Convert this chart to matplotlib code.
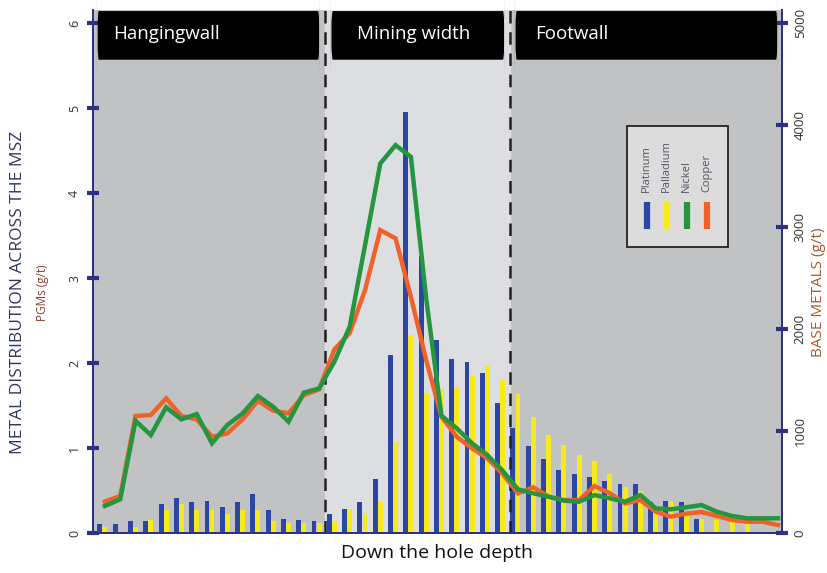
import matplotlib
matplotlib.use("Agg")
import numpy as np
import matplotlib.pyplot as plt
from matplotlib.patches import FancyBboxPatch, Rectangle
from matplotlib.lines import Line2D
import matplotlib.transforms as mtransforms

plt.rcParams['font.family'] = ['Open Sans', 'DejaVu Sans']

# samples down the hole, top of hangingwall to bottom of footwall
depth = np.arange(45)

# PGMs, g/t (left axis)
platinum = [0.11, 0.11, 0.14, 0.14, 0.34, 0.41, 0.36, 0.38, 0.31, 0.36,
            0.46, 0.27, 0.16, 0.15, 0.14, 0.22, 0.28, 0.36, 0.63, 2.09,
            4.95, 3.26, 2.27, 2.05, 2.01, 1.88, 1.53, 1.23, 1.02, 0.87,
            0.74, 0.70, 0.66, 0.61, 0.58, 0.58, 0.36, 0.38, 0.36, 0.16,
            0, 0, 0, 0, 0]
palladium = [0.07, 0.0, 0.07, 0.15, 0.27, 0.34, 0.27, 0.27, 0.22, 0.27,
             0.27, 0.14, 0.12, 0.12, 0.12, 0.14, 0.28, 0.23, 0.36, 1.07,
             2.33, 1.65, 1.69, 1.72, 1.85, 1.97, 1.80, 1.64, 1.37, 1.15,
             1.04, 0.92, 0.85, 0.69, 0.54, 0.49, 0.25, 0.38, 0.21, 0.16,
             0.15, 0.16, 0.12, 0, 0]

# base metals, g/t (right axis)
nickel = [265, 330, 1100, 960, 1232, 1114, 1166, 879, 1058, 1173,
          1343, 1238, 1091, 1375, 1418, 1680, 2022, 2820, 3623, 3802,
          3688, 2300, 1150, 1026, 879, 764, 610, 428, 389, 356,
          317, 307, 372, 340, 307, 372, 242, 232, 252, 274,
          209, 167, 144, 144, 144]
copper = [307, 363, 1147, 1157, 1320, 1147, 1114, 944, 977, 1114,
          1297, 1199, 1173, 1352, 1408, 1800, 1960, 2381, 2969, 2888,
          2316, 1695, 1140, 944, 830, 732, 580, 389, 448, 356,
          323, 323, 461, 389, 291, 323, 209, 160, 190, 205,
          167, 127, 111, 111, 78]

zones = ['Hangingwall', 'Mining width', 'Footwall']
zone_edges = [14.38, 26.47]

c_pt = '#2c46a6'
c_pd = '#f7ea18'
c_ni = '#23963f'
c_cu = '#f0622a'
navy = '#2b3184'
dark_bg = '#c1c2c4'
light_bg = '#dcdee1'

fig = plt.figure(figsize=(8.28, 5.73), dpi=100)
ax = fig.add_axes([0.1123, 0.0698, 0.832, 0.9127])
ax2 = ax.twinx()

xmin, xmax = -0.78, 44.25
ax.set_xlim(xmin, xmax)
ax.set_ylim(0, 6.153)
ax2.set_ylim(0, 5127)

# zone shading
ax.set_facecolor(dark_bg)
ax.axvspan(zone_edges[0], zone_edges[1], color=light_bg, zorder=0)
for xe in zone_edges:
    ax.axvline(xe, color='#222222', lw=1.8, ls=(0, (5, 3.5)), zorder=3)

# bars
w = 0.32
ax.bar(depth - 0.33, platinum, width=w, color=c_pt, zorder=2)
ax.bar(depth, palladium, width=w, color=c_pd, zorder=2)

# lines
ax2.plot(depth, copper, color=c_cu, lw=3.2, solid_joinstyle='miter', zorder=4)
ax2.plot(depth, nickel, color=c_ni, lw=3.2, solid_joinstyle='miter', zorder=5)

# spines and ticks
for a in (ax, ax2):
    a.spines['top'].set_visible(False)
    for s in ('left', 'right', 'bottom'):
        a.spines[s].set_color(navy)
        a.spines[s].set_linewidth(1.4)
ax.set_xticks([])
ax.set_yticks(range(0, 7))
ax2.set_yticks(range(0, 5001, 1000))
ax.tick_params(axis='y', direction='inout', length=9, width=3, color=navy,
               labelsize=9, labelcolor='#333333', labelrotation=90, pad=4)
ax2.tick_params(axis='y', direction='inout', length=9, width=3, color=navy,
                labelsize=9.5, labelcolor='#333333', labelrotation=90, pad=4)
for lab in ax.get_yticklabels() + ax2.get_yticklabels():
    lab.set_verticalalignment('center')

ax.set_xlabel('Down the hole depth', fontsize=14, color='#111111', labelpad=8)
fig.text(0.022, 0.49, 'METAL DISTRIBUTION ACROSS THE MSZ', rotation=90,
         ha='center', va='center', fontsize=12.5, color='#2f3566')
fig.text(0.051, 0.49, 'PGMs (g/t)', rotation=90, ha='center', va='center',
         fontsize=8.5, color='#8d3b2c')
fig.text(0.988, 0.49, 'BASE METALS (g/t)', rotation=90, ha='center',
         va='center', fontsize=11, color='#a8582a')

# zone headers
trans = mtransforms.blended_transform_factory(ax.transData, ax.transAxes)
boxes = [(-0.52, 14.05), (14.77, 26.14), (26.8, 43.99)]
for name, (x0, x1) in zip(zones, boxes):
    ax2.add_patch(FancyBboxPatch((x0, 0.905), x1 - x0, 0.093,
                                 boxstyle='round,pad=0,rounding_size=0.12',
                                 transform=trans, facecolor='black',
                                 edgecolor='none', zorder=6, clip_on=False))
ax2.text(0.52, 0.955, zones[0], transform=trans, color='white',
         fontsize=13.5, va='center', ha='left', zorder=7)
ax2.text(20.2, 0.955, zones[1], transform=trans, color='white',
         fontsize=13.5, va='center', ha='center', zorder=7)
ax2.text(28.1, 0.955, zones[2], transform=trans, color='white',
         fontsize=13.5, va='center', ha='left', zorder=7)

# legend
ax2.add_patch(Rectangle((0.775, 0.547), 0.147, 0.231, transform=ax.transAxes,
                        facecolor='#dcdcdc', edgecolor='#222222', lw=1.3,
                        zorder=6))
names = ['Platinum', 'Palladium', 'Nickel', 'Copper']
cols = [c_pt, c_pd, c_ni, c_cu]
for k, (nm, cl) in enumerate(zip(names, cols)):
    xk = 0.804 + 0.029 * k
    ax2.text(xk, 0.653, nm, transform=ax.transAxes, rotation=90,
             ha='center', va='bottom', fontsize=8, color='#555566', zorder=7)
    ax2.add_line(Line2D([xk, xk], [0.582, 0.633], transform=ax.transAxes,
                        color=cl, lw=4.5, solid_capstyle='butt', zorder=7))

fig.savefig('out.png', dpi=100)
